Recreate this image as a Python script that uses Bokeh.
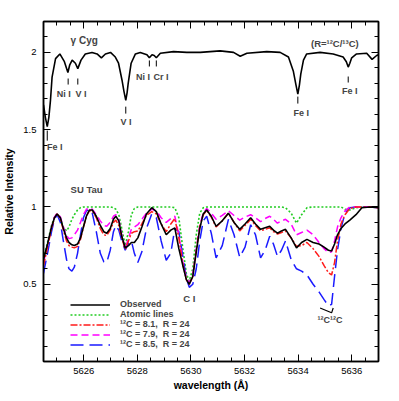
from bokeh.plotting import figure
from bokeh.models import (Range1d, LinearAxis, FixedTicker, Legend, LegendItem, Label,
                          CustomJSTickFormatter)
from bokeh.embed import file_html
from bokeh.resources import INLINE
import numpy as np

# ---------------- data ----------------
# gamma Cyg (top spectrum), normalised flux, plotted with offset +1
gcyg_wl = [5624.50, 5624.57, 5624.64, 5624.70, 5624.76, 5624.82, 5624.95, 5625.11, 5625.28, 5625.41,
           5625.48, 5625.57, 5625.69, 5625.78, 5625.90, 5626.06, 5626.31, 5626.50, 5626.66, 5626.81,
           5627.00, 5627.18, 5627.30, 5627.43, 5627.50, 5627.57, 5627.62, 5627.66, 5627.77, 5627.93,
           5628.11, 5628.36, 5628.45, 5628.55, 5628.63, 5628.71, 5628.86, 5629.35, 5629.85, 5630.35,
           5631.09, 5631.59, 5631.84, 5632.09, 5632.83, 5633.33, 5633.64, 5633.82, 5633.92, 5633.99,
           5634.05, 5634.10, 5634.20, 5634.32, 5634.82, 5635.31, 5635.68, 5635.80, 5635.87, 5635.93,
           5636.00, 5636.18, 5636.56, 5636.76, 5636.93, 5637.00]
gcyg_flux = [0.66, 0.58, 0.52, 0.58, 0.69, 0.84, 0.96, 0.99, 0.94, 0.87,
             0.92, 0.95, 0.93, 0.895, 0.95, 0.99, 1.00, 0.99, 0.965, 0.99,
             1.00, 0.97, 0.93, 0.82, 0.75, 0.69, 0.74, 0.80, 0.93, 0.99,
             1.00, 0.985, 0.965, 0.985, 0.98, 0.965, 0.995, 1.005, 1.00, 1.00,
             1.01, 1.00, 0.975, 0.995, 1.005, 1.00, 0.97, 0.88, 0.79, 0.73,
             0.79, 0.86, 0.95, 0.99, 1.00, 0.99, 0.97, 0.94, 0.905, 0.93,
             0.965, 0.99, 0.995, 0.955, 0.98, 0.985]
gcyg_offset = 1.0

# SU Tau (bottom spectra) on a common wavelength grid
sutau_wl = [5624.50, 5624.65, 5624.80, 5624.91, 5625.01, 5625.13, 5625.24, 5625.36, 5625.45, 5625.56,
            5625.65, 5625.77, 5625.88, 5625.99, 5626.10, 5626.21, 5626.32, 5626.47, 5626.62, 5626.75,
            5626.86, 5626.99, 5627.11, 5627.20, 5627.31, 5627.42, 5627.55, 5627.67, 5627.78, 5627.89,
            5628.02, 5628.17, 5628.34, 5628.54, 5628.71, 5628.89, 5629.08, 5629.25, 5629.40, 5629.55,
            5629.70, 5629.83, 5629.94, 5630.07, 5630.20, 5630.33, 5630.46, 5630.59, 5630.76, 5630.94,
            5631.17, 5631.40, 5631.61, 5631.82, 5632.02, 5632.23, 5632.41, 5632.60, 5632.77, 5632.94,
            5633.08, 5633.23, 5633.38, 5633.53, 5633.74, 5633.94, 5634.13, 5634.33, 5634.56, 5634.78,
            5634.97, 5635.13, 5635.25, 5635.36, 5635.47, 5635.60, 5635.75, 5635.93, 5636.16, 5636.38,
            5636.68, 5637.00]
observed = [0.66, 0.76, 0.87, 0.93, 0.955, 0.93, 0.86, 0.80, 0.77, 0.755,
            0.75, 0.76, 0.80, 0.87, 0.94, 0.98, 0.98, 0.94, 0.88, 0.84,
            0.83, 0.86, 0.92, 0.94, 0.91, 0.81, 0.735, 0.75, 0.77, 0.77,
            0.80, 0.87, 0.955, 0.995, 0.97, 0.89, 0.82, 0.85, 0.865, 0.73,
            0.62, 0.53, 0.50, 0.55, 0.71, 0.86, 0.955, 0.98, 0.94, 0.875,
            0.91, 0.96, 0.90, 0.855, 0.89, 0.93, 0.89, 0.855, 0.865, 0.875,
            0.85, 0.83, 0.845, 0.855, 0.80, 0.735, 0.77, 0.79, 0.77, 0.76,
            0.74, 0.72, 0.715, 0.76, 0.82, 0.86, 0.89, 0.915, 0.95, 0.995,
            1.00, 0.995]
atomic = [0.67, 0.77, 0.88, 0.935, 0.955, 0.92, 0.87, 0.845, 0.87, 0.92,
          0.95, 0.98, 0.995, 1.00, 1.00, 1.00, 1.00, 1.00, 1.00, 1.00,
          1.00, 1.00, 0.995, 0.985, 0.95, 0.86, 0.75, 0.84, 0.95, 0.99,
          1.00, 1.00, 1.00, 1.00, 1.00, 1.00, 1.00, 1.00, 0.995, 0.93,
          0.73, 0.57, 0.52, 0.60, 0.82, 0.96, 0.995, 1.00, 1.00, 1.00,
          1.00, 1.00, 1.00, 1.00, 1.00, 1.00, 1.00, 1.00, 1.00, 1.00,
          1.00, 1.00, 1.00, 0.995, 0.96, 0.895, 0.95, 0.995, 1.00, 1.00,
          1.00, 1.00, 1.00, 1.00, 1.00, 1.00, 0.985, 0.98, 0.995, 1.00,
          1.00, 1.00]
c12_81 = [0.62, 0.74, 0.86, 0.93, 0.955, 0.925, 0.85, 0.78, 0.75, 0.74,
          0.735, 0.745, 0.79, 0.87, 0.94, 0.975, 0.975, 0.93, 0.86, 0.82,
          0.815, 0.85, 0.90, 0.915, 0.88, 0.80, 0.725, 0.78, 0.83, 0.84,
          0.845, 0.89, 0.945, 0.97, 0.955, 0.89, 0.84, 0.89, 0.925, 0.80,
          0.63, 0.53, 0.50, 0.55, 0.72, 0.87, 0.95, 0.975, 0.935, 0.87,
          0.91, 0.96, 0.90, 0.845, 0.88, 0.92, 0.88, 0.845, 0.855, 0.865,
          0.84, 0.825, 0.835, 0.845, 0.80, 0.745, 0.75, 0.77, 0.73, 0.68,
          0.62, 0.575, 0.56, 0.64, 0.78, 0.89, 0.95, 0.99, 1.00, 1.00,
          1.00, 0.995]
c12_79 = [0.64, 0.75, 0.87, 0.935, 0.96, 0.935, 0.87, 0.815, 0.795, 0.80,
          0.82, 0.85, 0.90, 0.95, 0.985, 0.995, 0.985, 0.95, 0.91, 0.88,
          0.875, 0.90, 0.94, 0.95, 0.92, 0.82, 0.73, 0.80, 0.855, 0.87,
          0.885, 0.92, 0.96, 0.985, 0.975, 0.93, 0.90, 0.925, 0.94, 0.82,
          0.64, 0.54, 0.51, 0.56, 0.73, 0.88, 0.96, 0.99, 0.96, 0.92,
          0.945, 0.975, 0.945, 0.915, 0.935, 0.95, 0.93, 0.905, 0.925, 0.94,
          0.92, 0.895, 0.91, 0.92, 0.89, 0.82, 0.835, 0.85, 0.82, 0.77,
          0.73, 0.705, 0.71, 0.78, 0.87, 0.93, 0.975, 1.00, 1.00, 1.00,
          1.00, 0.995]
c12_85 = [0.57, 0.70, 0.84, 0.92, 0.95, 0.90, 0.78, 0.66, 0.60, 0.585,
          0.61, 0.70, 0.82, 0.93, 0.975, 0.985, 0.96, 0.84, 0.70, 0.645,
          0.64, 0.72, 0.84, 0.88, 0.85, 0.78, 0.72, 0.765, 0.78, 0.70,
          0.64, 0.71, 0.86, 0.955, 0.93, 0.78, 0.655, 0.70, 0.86, 0.84,
          0.68, 0.54, 0.48, 0.50, 0.60, 0.78, 0.91, 0.94, 0.83, 0.67,
          0.75, 0.92, 0.82, 0.675, 0.74, 0.885, 0.82, 0.67, 0.72, 0.81,
          0.76, 0.68, 0.72, 0.78, 0.66, 0.60, 0.585, 0.56, 0.50, 0.45,
          0.40, 0.36, 0.37, 0.55, 0.72, 0.86, 0.96, 0.995, 1.00, 1.00,
          1.00, 0.995]

legend_labels = ["Observed", "Atomic lines", "¹²C = 8.1,  R = 24",
                 "¹²C = 7.9,  R = 24", "¹²C = 8.5,  R = 24"]

# line identifications in the gamma Cyg spectrum
id_names = ["Fe I", "Ni I", "V I", "V I", "Ni I", "Cr I", "Fe I", "Fe I"]
id_wl = [5624.64, 5625.42, 5625.78, 5627.57, 5628.45, 5628.71, 5633.99, 5635.87]
id_tick_top = [1.494, 1.831, 1.831, 1.649, 1.948, 1.948, 1.714, 1.844]
id_tick_bot = [1.429, 1.792, 1.792, 1.604, 1.909, 1.909, 1.669, 1.805]
id_text_x = [5624.92, 5625.26, 5625.90, 5627.58, 5628.21, 5628.88, 5634.12, 5635.93]
id_text_y = [1.39, 1.734, 1.734, 1.552, 1.844, 1.844, 1.606, 1.753]

x_major = [5626, 5628, 5630, 5632, 5634, 5636]
y_major = [0.5, 1.0, 1.5, 2.0]

# ---------------- figure ----------------
FONT = "Liberation Sans"
p = figure(frame_width=335, frame_height=340, output_backend="svg", toolbar_location=None,
           x_range=Range1d(5624.5, 5637.0), y_range=Range1d(0.0, 2.2),
           min_border_left=43, min_border_right=13, min_border_top=21, min_border_bottom=32)
p.grid.visible = False
p.outline_line_color = "black"
p.outline_line_width = 1.5
p.background_fill_color = "white"

x_minor = list(np.arange(5624.5, 5637.01, 0.5))
y_minor = list(np.round(np.arange(0.0, 2.21, 0.1), 2))

def style(ax, show_labels):
    ax.major_tick_in = 7
    ax.major_tick_out = 0
    ax.minor_tick_in = 4
    ax.minor_tick_out = 0
    ax.axis_line_color = "black"
    ax.axis_line_width = 1.5
    ax.major_tick_line_color = "black"
    ax.minor_tick_line_color = "black"
    ax.major_label_text_font = FONT
    ax.major_label_text_color = "black"
    ax.major_label_text_font_size = "9.5px"
    if not show_labels:
        ax.formatter = CustomJSTickFormatter(code="return '';")
        ax.major_label_standoff = 0

xt = FixedTicker(ticks=x_major, minor_ticks=x_minor)
yt = FixedTicker(ticks=y_major, minor_ticks=y_minor)

p.xaxis.ticker = xt
p.yaxis.ticker = yt
p.yaxis.formatter = CustomJSTickFormatter(code="return String(tick);")
style(p.xaxis[0], True)
style(p.yaxis[0], True)
p.xaxis.major_label_standoff = 6
p.yaxis.major_label_standoff = 7
p.xaxis.axis_label = "wavelength (Å)"
p.yaxis.axis_label = "Relative Intensity"
for ax in (p.xaxis[0], p.yaxis[0]):
    ax.axis_label_text_font = FONT
    ax.axis_label_text_font_style = "bold"
    ax.axis_label_text_font_size = "10.5px"
    ax.axis_label_text_color = "black"
p.xaxis.axis_label_standoff = 2
p.yaxis.axis_label_standoff = 5

top_ax = LinearAxis(ticker=FixedTicker(ticks=x_major, minor_ticks=x_minor))
right_ax = LinearAxis(ticker=FixedTicker(ticks=y_major, minor_ticks=y_minor))
style(top_ax, False)
style(right_ax, False)
p.add_layout(top_ax, "above")
p.add_layout(right_ax, "right")

# ---------------- spectra ----------------
gcyg_plot = [f + gcyg_offset for f in gcyg_flux]
p.line(gcyg_wl, gcyg_plot, line_color="black", line_width=1.6)

r_atm = p.line(sutau_wl, atomic, line_color="#22cc22", line_width=1.6, line_dash="2 2")
r_85 = p.line(sutau_wl, c12_85, line_color="#1a1aff", line_width=1.5, line_dash="13 6")
r_79 = p.line(sutau_wl, c12_79, line_color="#ff00ff", line_width=1.5, line_dash="7 4")
r_81 = p.line(sutau_wl, c12_81, line_color="#ff1a1a", line_width=1.5, line_dash="7 2 2 2")
r_obs = p.line(sutau_wl, observed, line_color="black", line_width=1.6)

legend = Legend(items=[LegendItem(label=legend_labels[0], renderers=[r_obs]),
                       LegendItem(label=legend_labels[1], renderers=[r_atm]),
                       LegendItem(label=legend_labels[2], renderers=[r_81]),
                       LegendItem(label=legend_labels[3], renderers=[r_79]),
                       LegendItem(label=legend_labels[4], renderers=[r_85])],
                location=(27, 12), glyph_width=40, glyph_height=9, label_height=9,
                spacing=0, padding=0, margin=0, label_standoff=10,
                label_text_font=FONT, label_text_font_size="9px", label_text_font_style="bold",
                label_text_line_height=1.0,
                background_fill_alpha=0, border_line_alpha=0)
p.add_layout(legend)

# ---------------- annotations ----------------
p.segment(x0=id_wl, y0=id_tick_bot, x1=id_wl, y1=id_tick_top, line_color="black", line_width=1)
for name, tx, ty in zip(id_names, id_text_x, id_text_y):
    p.add_layout(Label(x=tx, y=ty, text=name, text_font=FONT, text_font_size="9px",
                       text_font_style="bold", text_align="center", text_baseline="middle"))

def lab(x, y, t, size="9.5px", align="left"):
    p.add_layout(Label(x=x, y=y, text=t, text_font=FONT, text_font_size=size,
                       text_font_style="bold", text_align=align, text_baseline="middle"))

lab(5625.51, 2.078, "γ Cyg", "10px")
lab(5634.48, 2.06, "(R=¹²C/¹³C)", "9.5px")
lab(5625.51, 1.115, "SU Tau", "9.5px")
lab(5629.94, 0.405, "C I", "9.5px", "center")
lab(5635.19, 0.266, "¹²C¹²C", "9px", "center")

band_mark_wl = [5634.82, 5635.25, 5635.31]
band_mark_v = [0.346, 0.315, 0.346]
p.line(band_mark_wl, band_mark_v, line_color="black", line_width=1.2)

open("out.html", "w").write(file_html(p, INLINE))
